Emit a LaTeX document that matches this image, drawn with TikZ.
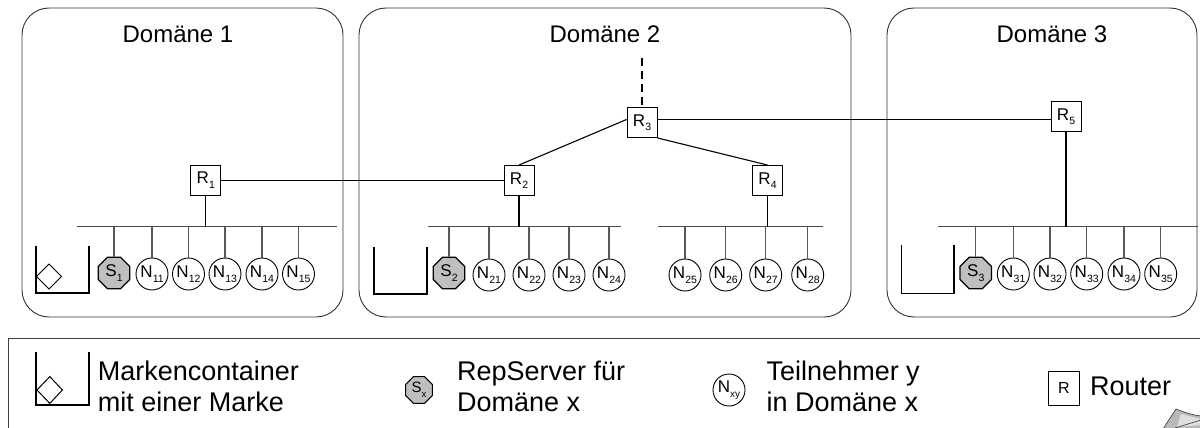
\documentclass[tikz,border=0pt]{standalone}
\usepackage{fontspec}
\setmainfont{Liberation Sans}
\usetikzlibrary{shapes.geometric}
% letter with a lowered index, as in N_11
\newcommand\sublab[3][10.5]{#2\kern0.2pt\raisebox{-4.5pt}{\fontsize{#1}{#1}\selectfont #3}}

\begin{document}
\begin{tikzpicture}[x=1pt,y=-1pt,
  dom/.style={draw=black!80, line width=0.9pt, rounded corners=27pt},
  title/.style={font=\fontsize{24}{28}\selectfont, anchor=base, inner sep=0pt},
  router/.style={draw, line width=0.9pt, fill=white, minimum width=30pt, minimum height=30pt, inner sep=0pt, font=\fontsize{17}{17}\selectfont},
  srv/.style={draw, line width=1.2pt, fill=gray!50, regular polygon, regular polygon sides=8, minimum size=34pt, inner sep=0pt, font=\fontsize{17}{17}\selectfont},
  tn/.style={draw, circle, line width=0.9pt, fill=white, minimum size=32pt, inner sep=0pt, font=\fontsize{17}{17}\selectfont},
  link/.style={line width=1.1pt},
  bus/.style={draw=black!70, line width=1.3pt},
  drop/.style={draw=black!65, line width=1.1pt},
  cont/.style={line width=1.1pt},
  legtext/.style={anchor=north west, align=left, inner sep=0pt, font=\fontsize{27}{30.5}\selectfont}
]
\useasboundingbox (0,0) rectangle (1200,428);
\clip (0,0) rectangle (1200,428);

% ---------- domains ----------
\draw[dom] (22,8) rectangle (343,317);
\draw[dom] (359,8) rectangle (851,317);
\draw[dom] (887,8) rectangle (1197,317);
\node[title] (t1) at (178,43) {Domäne 1};
\node[title] (t2) at (605,43) {Domäne 2};
\node[title] (t3) at (1052,43) {Domäne 3};

% ---------- routers ----------
\node[router] (R1) at (205.7,180) {\sublab{R}{1}};
\node[router] (R2) at (519,180.5) {\sublab{R}{2}};
\node[router] (R3) at (642,122.5) {\sublab{R}{3}};
\node[router] (R4) at (767.5,180.5) {\sublab{R}{4}};
\node[router] (R5) at (1066,116.5) {\sublab{R}{5}};

\coordinate (up) at (642,58);
\draw[link, dash pattern=on 8pt off 5pt] (up) -- (R3.north);
\draw[link] ([yshift=-0.5pt]R1.east) -- ([yshift=-0.5pt]R2.west |- R1.east);
\draw[link] (R2.north) -- ([yshift=3pt]R3.west);
\draw[link] (R3.south east) -- (R4.north);
\draw[link] ([yshift=3pt]R3.east) -- ([yshift=-3pt]R5.west);

% ---------- buses ----------
\coordinate (b1l) at (77,226.7);   \coordinate (b1r) at (337,226.7);
\coordinate (b2l) at (427.7,226.7); \coordinate (b2r) at (621,226.7);
\coordinate (b4l) at (658,226.7);  \coordinate (b4r) at (823,226.7);
\coordinate (b5l) at (938,226.7);  \coordinate (b5r) at (1198,226.7);
\draw[bus] (b1l) -- (b1r);
\draw[bus] (b2l) -- (b2r);
\draw[bus] (b4l) -- (b4r);
\draw[bus] (b5l) -- (b5r);
\draw[link] (R1.south) -- (R1.south |- b1l);
\draw[link] (R2.south) -- (R2.south |- b2l);
\draw[link] (R4.south) -- (R4.south |- b4l);
\draw[link] (R5.south) -- (R5.south |- b5l);

% ---------- domain 1 ----------
\node[srv] (S1) at (114,273) {\sublab{S}{1}};
\foreach \i/\x in {11/152,12/188.5,13/225,14/262,15/298.5}
  \node[tn] (N\i) at (\x,274) {\sublab{N}{\i}};
\foreach \n in {S1,N11,N12,N13,N14,N15}
  \draw[drop] (\n.north |- b1l) -- (\n.north);

% ---------- domain 2 ----------
\node[srv] (S2) at (449,273) {\sublab{S}{2}};
\foreach \i/\x in {21/489,22/529,23/569,24/609,25/685,26/725.7,27/765.7,28/807.7}
  \node[tn] (N\i) at (\x,275) {\sublab{N}{\i}};
\foreach \n in {S2,N21,N22,N23,N24}
  \draw[drop] (\n.north |- b2l) -- (\n.north);
\foreach \n in {N25,N26,N27,N28}
  \draw[drop] (\n.north |- b4l) -- (\n.north);

% ---------- domain 3 ----------
\node[srv] (S3) at (975.7,273) {\sublab{S}{3}};
\foreach \i/\x in {31/1013.3,32/1050,33/1086.7,34/1124,35/1160.7}
  \node[tn] (N\i) at (\x,274) {\sublab{N}{\i}};
\foreach \n in {S3,N31,N32,N33,N34,N35}
  \draw[drop] (\n.north |- b5l) -- (\n.north);

% ---------- token containers ----------
\draw[cont] (36,246) -- (36,293) -- (89,293) -- (89,246);
\draw[line width=1pt] (36.5,276.5) -- (49,264) -- (61.5,276.5) -- (49,289) -- cycle;
\draw[cont] (374,246.7) -- (374,294) -- (427,294) -- (427,246.7);
\draw[cont] (901.7,245) -- (901.7,293.3) -- (954,293.3) -- (954,245);

% ---------- legend ----------
\draw[draw=black!75, line width=1pt] (8,450) -- (8,338) -- (1215,338);

\draw[cont] (36,352) -- (36,405) -- (89,405) -- (89,352);
\draw[line width=1pt] (37,390) -- (49.8,376.6) -- (62.4,390) -- (49.8,403.4) -- cycle;
\node[legtext] (l1) at (97.6,361) {Markencontainer\\mit einer Marke};

\node[srv, minimum size=29pt, line width=1pt, font=\fontsize{15}{15}\selectfont] (Sx) at (419,390) {\sublab[9.5]{S}{x}};
\node[legtext] (l2) at (457,361) {RepServer für\\Domäne x};

\node[tn] (Nxy) at (729,390) {\sublab[10]{N}{xy}};
\node[legtext] (l3) at (766.5,361) {Teilnehmer y\\in Domäne x};

\node[router, minimum width=31pt, minimum height=34pt, font=\fontsize{16}{16}\selectfont] (Rl) at (1064,388) {R};
\node[anchor=base west, inner sep=0pt, font=\fontsize{27}{30.5}\selectfont] (l4) at (1090,395) {Router};

% curled page corner
\filldraw[fill=gray!55, draw=black!80, line width=0.6pt]
  (1163,429) -- (1176,409) .. controls (1186,413) and (1193,415) .. (1201,416) -- (1201,429) -- cycle;
\fill[gray!25] (1181,414) -- (1201,419) -- (1201,425) -- (1177,427) -- cycle;
\draw[black!80, line width=0.6pt] (1175,428) -- (1201,420);
\end{tikzpicture}
\end{document}
